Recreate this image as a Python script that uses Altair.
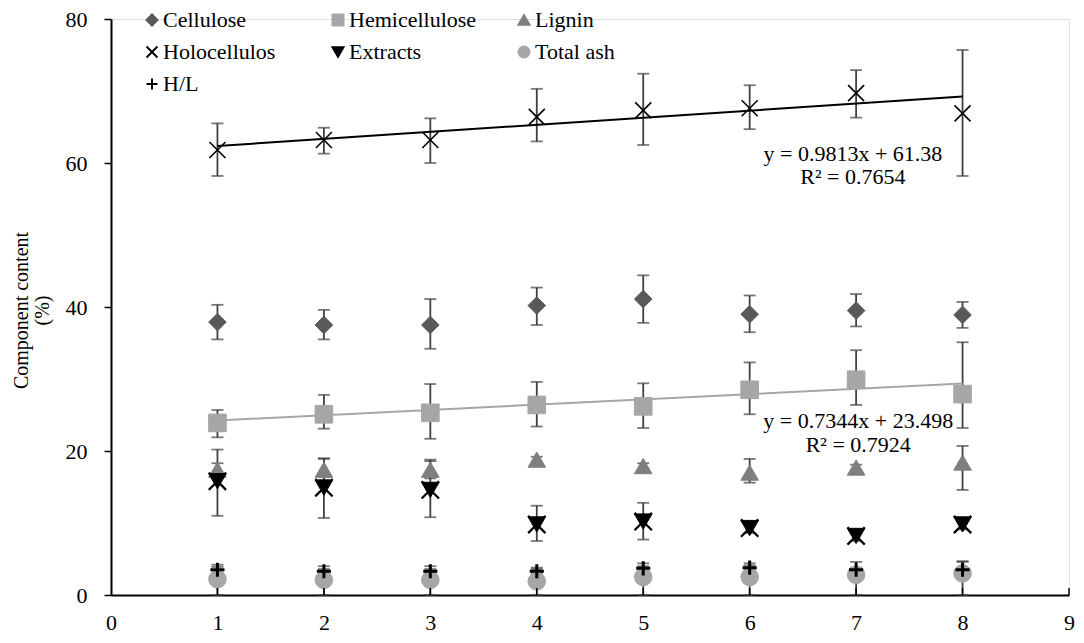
import altair as alt
import pandas as pd

# ---------------- data ----------------
x_vals = [1, 2, 3, 4, 5, 6, 7, 8]
series_names = ["Cellulose", "Hemicellulose", "Lignin", "Holocellulos", "Extracts", "Total ash", "H/L"]

cell_mean = [37.9, 37.5, 37.5, 40.2, 41.1, 39.0, 39.5, 38.9]
cell_lo = [35.5, 35.5, 34.2, 37.5, 37.8, 36.5, 37.3, 37.1]
cell_hi = [40.3, 39.6, 41.1, 42.7, 44.4, 41.6, 41.8, 40.7]

hemi_mean = [23.9, 25.1, 25.3, 26.4, 26.2, 28.5, 29.9, 27.9]
hemi_lo = [21.9, 23.1, 21.7, 23.4, 23.2, 25.1, 26.4, 23.2]
hemi_hi = [25.7, 27.8, 29.3, 29.6, 29.4, 32.3, 34.0, 35.1]

lig_mean = [17.4, 17.4, 17.4, 18.8, 17.9, 17.0, 17.7, 18.4]
lig_lo = [16.8, 16.0, 16.2, 18.3, 17.5, 15.6, 17.3, 14.6]
lig_hi = [18.3, 18.9, 18.8, 19.2, 18.3, 18.9, 18.1, 20.7]

holo_mean = [61.8, 63.2, 63.2, 66.4, 67.3, 67.6, 69.7, 66.9]
holo_lo = [58.2, 61.3, 60.0, 63.0, 62.5, 64.7, 66.3, 58.2]
holo_hi = [65.5, 64.9, 66.2, 70.3, 72.4, 70.8, 72.9, 75.7]

ext_mean = [15.8, 14.9, 14.6, 9.8, 10.2, 9.3, 8.2, 9.8]
ext_lo = [11.0, 10.7, 10.8, 7.5, 7.7, 8.6, 7.5, 9.1]
ext_hi = [20.2, 19.0, 18.6, 12.4, 12.8, 10.0, 8.9, 10.5]

ash_mean = [2.2, 2.1, 2.1, 1.9, 2.5, 2.5, 2.8, 3.0]
ash_lo = [0.0, 0.0, 0.0, 0.0, 0.0, 0.0, 0.0, 0.0]
ash_hi = [4.2, 4.0, 4.0, 3.8, 4.4, 4.4, 4.6, 4.6]

hl_mean = [3.5, 3.3, 3.3, 3.3, 3.7, 3.8, 3.5, 3.5]
hl_lo = [3.1, 3.0, 3.0, 3.0, 3.4, 3.5, 3.2, 3.0]
hl_hi = [3.9, 3.6, 3.6, 3.6, 4.0, 4.1, 3.8, 4.7]

# printed trend lines
trend_names = ["Holocellulos", "Hemicellulose"]
trend_slope = [0.9813, 0.7344]
trend_icpt = [61.38, 23.498]
trend_x = [1, 8]
eq_text = [["y = 0.9813x + 61.38", "R² = 0.7654"], ["y = 0.7344x + 23.498", "R² = 0.7924"]]

x_ticks = [1, 2, 3, 4, 5, 6, 7, 8, 9]

# ---------------- tables ----------------
all_series = {
    "Cellulose": (cell_mean, cell_lo, cell_hi),
    "Hemicellulose": (hemi_mean, hemi_lo, hemi_hi),
    "Lignin": (lig_mean, lig_lo, lig_hi),
    "Holocellulos": (holo_mean, holo_lo, holo_hi),
    "Extracts": (ext_mean, ext_lo, ext_hi),
    "Total ash": (ash_mean, ash_lo, ash_hi),
    "H/L": (hl_mean, hl_lo, hl_hi),
}
rows = []
for name in series_names:
    m, lo, hi = all_series[name]
    for xv, a, b, c in zip(x_vals, m, lo, hi):
        rows.append({"series": name, "x": xv, "y": a, "lo": b, "hi": c})
df = pd.DataFrame(rows)

trows = []
for name, s, b in zip(trend_names, trend_slope, trend_icpt):
    for xv in trend_x:
        trows.append({"series": name, "x": xv, "y": s * xv + b})
tdf = pd.DataFrame(trows)

tick_df = pd.DataFrame({"t": x_ticks})

# ---------------- styling ----------------
W, H = 958, 576
FONT = "Liberation Serif"
FS = 22
xscale = alt.Scale(domain=[0, 9], nice=False, zero=False)
yscale = alt.Scale(domain=[0, 80], nice=False)

x_axis = alt.Axis(values=list(range(0, 10)), title=None, grid=False, ticks=False, tickSize=0,
                  labelFont=FONT, labelFontSize=FS, labelColor="black", labelPadding=17,
                  domainColor="black", domainWidth=2, labelFlush=False)
y_axis = alt.Axis(values=[0, 20, 40, 60, 80], title=["Component content", "(%)"], grid=False,
                  labelFont=FONT, labelFontSize=FS, labelColor="black", labelPadding=17,
                  tickColor="black", tickSize=7, tickWidth=1.5,
                  domainColor="black", domainWidth=2,
                  titleFont=FONT, titleFontSize=20, titleFontWeight="normal", titleColor="black",
                  titlePadding=13, titleY=291, titleLineHeight=21)

X = alt.X("x:Q", scale=xscale, axis=x_axis)
Y = alt.Y("y:Q", scale=yscale, axis=y_axis)

shape_of = {"Cellulose": "diamond", "Hemicellulose": "square", "Lignin": "triangle-up",
            "Holocellulos": "M-1,-1L1,1M-1,1L1,-1", "Extracts": "triangle-down",
            "Total ash": "circle", "H/L": "M-1,0L1,0M0,-1L0,1"}
fill_of = {"Cellulose": "#595959", "Hemicellulose": "#A6A6A6", "Lignin": "#7F7F7F",
           "Holocellulos": "black", "Extracts": "black", "Total ash": "#A6A6A6", "H/L": "black"}

# The vertical legend grid fills column-wise (entries sorted by index % 3), so the
# domain is permuted so that rows read: Cellulose/Hemicellulose/Lignin, Holocellulos/...
legend_domain = ["Cellulose", "Holocellulos", "Total ash", "Hemicellulose", "Extracts", "H/L", "Lignin"]
shape_range = [shape_of[s] for s in legend_domain]
fill_range = [fill_of[s] for s in legend_domain]

leg = alt.Legend(title=None, orient="none", legendX=30, legendY=-10, columns=3,
                 columnPadding=36, rowPadding=10, gridAlign="all", padding=0,
                 labelFont=FONT, labelFontSize=FS, labelColor="black",
                 symbolSize=120, symbolStrokeWidth=2, labelOffset=0)

SH = alt.Shape("series:N", scale=alt.Scale(domain=legend_domain, range=shape_range), legend=leg)
FI = alt.Fill("series:N", scale=alt.Scale(domain=legend_domain, range=fill_range), legend=leg)
ST = alt.Stroke("series:N", scale=alt.Scale(domain=legend_domain, range=fill_range), legend=leg)

err_color = "#404040"

err_rule = alt.Chart(df).mark_rule(color=err_color, strokeWidth=1.8).encode(
    x=X, y=alt.Y("lo:Q", scale=yscale, axis=y_axis), y2="hi:Q")
cap_lo = alt.Chart(df).mark_tick(orient="horizontal", color=err_color, thickness=1.8, size=12).encode(
    x=X, y=alt.Y("lo:Q", scale=yscale, axis=y_axis))
cap_hi = alt.Chart(df).mark_tick(orient="horizontal", color=err_color, thickness=1.8, size=12).encode(
    x=X, y=alt.Y("hi:Q", scale=yscale, axis=y_axis))

trend_holo = alt.Chart(tdf).transform_filter(alt.datum.series == "Holocellulos").mark_line(
    color="black", strokeWidth=2).encode(x=X, y=Y)
trend_hemi = alt.Chart(tdf).transform_filter(alt.datum.series == "Hemicellulose").mark_line(
    color="#A6A6A6", strokeWidth=2).encode(x=X, y=Y)

filled_group = ["Cellulose", "Hemicellulose", "Lignin", "Extracts", "Total ash"]
pts_filled = alt.Chart(df).transform_filter(
    alt.FieldOneOfPredicate(field="series", oneOf=filled_group)
).mark_point(filled=True, opacity=1, size=310, strokeWidth=1).encode(x=X, y=Y, shape=SH, fill=FI, stroke=ST)

pts_holo = alt.Chart(df).transform_filter(alt.datum.series == "Holocellulos").mark_point(
    filled=True, opacity=1, size=256, strokeWidth=1.6).encode(x=X, y=Y, shape=SH, fill=FI, stroke=ST)

pts_hl = alt.Chart(df).transform_filter(alt.datum.series == "H/L").mark_point(
    filled=True, opacity=1, size=200, strokeWidth=3).encode(x=X, y=Y, shape=SH, fill=FI, stroke=ST)

ext_x = alt.Chart(df).transform_filter(alt.datum.series == "Extracts").mark_point(
    shape="M-1,-1L1,1M-1,1L1,-1", size=300, stroke="black", strokeWidth=2.2, opacity=1).encode(
    x=X, y=Y)

inner_ticks = alt.Chart(tick_df).mark_rule(color="black", strokeWidth=1.5).encode(
    x=alt.X("t:Q", scale=xscale, axis=x_axis), y=alt.value(H), y2=alt.value(H - 7))

def eq_label(lines, xv, y1, y2):
    a = alt.Chart(tick_df).transform_filter(alt.datum.t == 1).mark_text(
        font=FONT, fontSize=FS, color="black", align="center", baseline="middle", text=lines[0]).encode(
        x=alt.X(datum=xv, scale=xscale, axis=x_axis), y=alt.Y(datum=y1, scale=yscale, axis=y_axis))
    b = alt.Chart(tick_df).transform_filter(alt.datum.t == 1).mark_text(
        font=FONT, fontSize=FS, color="black", align="center", baseline="middle", text=lines[1]).encode(
        x=alt.X(datum=xv, scale=xscale, axis=x_axis), y=alt.Y(datum=y2, scale=yscale, axis=y_axis))
    return a + b

eq1 = eq_label(eq_text[0], 6.97, 61.2, 58.0)
eq2 = eq_label(eq_text[1], 7.02, 24.1, 20.8)

chart = alt.layer(
    err_rule, cap_lo, cap_hi, trend_holo, trend_hemi, pts_filled, pts_holo, pts_hl, ext_x,
    inner_ticks, eq1, eq2
).properties(
    width=W, height=H,
    autosize=alt.AutoSizeParams(type="none"),
    padding={"left": 103, "top": 11, "right": 6, "bottom": 46},
).configure_view(stroke=None).configure(background="white")

chart.save("out.html", embed_options={"renderer": "svg", "actions": False})
